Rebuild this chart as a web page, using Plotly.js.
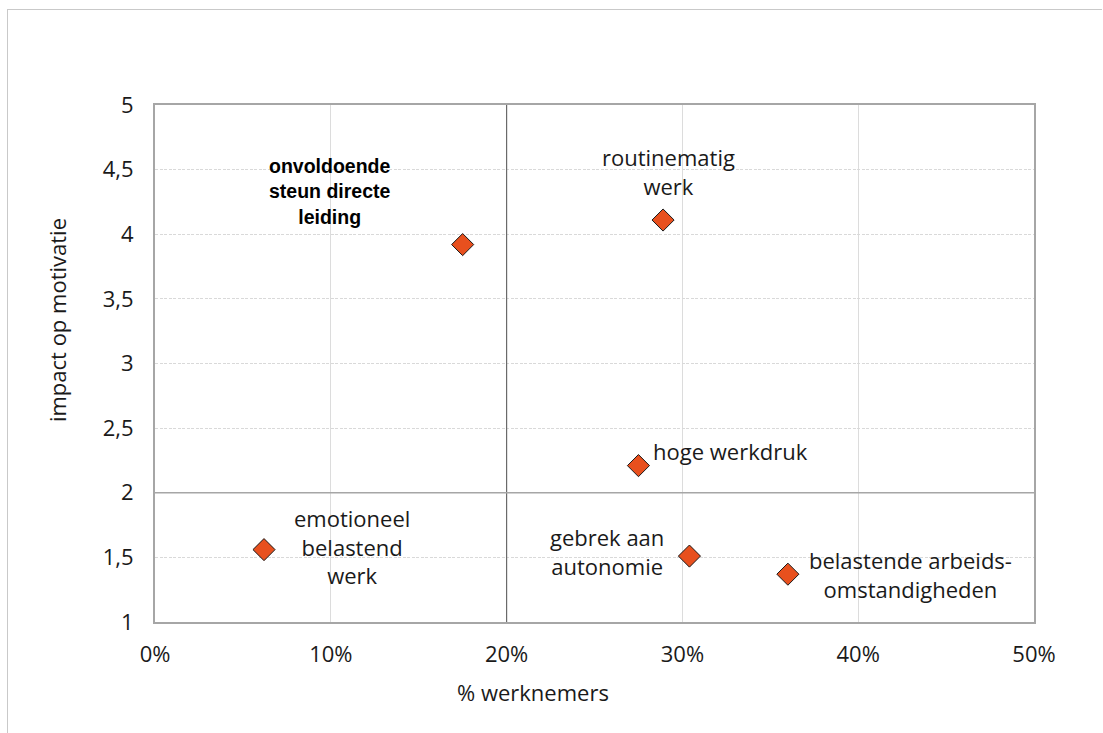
<!DOCTYPE html>
<html>
<head>
<meta charset="utf-8">
<script src="https://cdn.plot.ly/plotly-3.0.1.min.js"></script>
<style>
  html, body { margin: 0; padding: 0; background: #ffffff; }
  #frame { position: absolute; left: 7px; top: 9px; width: 1095px; height: 760px;
           border-left: 1px solid #c9c9c9; border-top: 1px solid #c9c9c9; box-sizing: border-box; }
  #chart { position: absolute; left: 0; top: 0; width: 1103px; height: 733px; }
</style>
</head>
<body>
<div id="frame"></div>
<div id="chart"></div>
<script>
// Werkfactoren: aandeel werknemers (%) en impact op motivatie
const factors = [
  'onvoldoende steun directe leiding',
  'routinematig werk',
  'hoge werkdruk',
  'emotioneel belastend werk',
  'gebrek aan autonomie',
  'belastende arbeidsomstandigheden'
];
const pctEmployees = [17.5, 28.9, 27.5, 6.2, 30.4, 36.0];
const impact = [3.92, 4.11, 2.21, 1.56, 1.51, 1.37];

// Labels shown next to each point
const labelTexts = [
  'onvoldoende<br>steun directe<br>leiding',
  'routinematig<br>werk',
  'hoge werkdruk',
  'emotioneel<br>belastend<br>werk',
  'gebrek aan<br>autonomie',
  'belastende arbeids-<br>omstandigheden'
];
const labelX = [9.95, 29.2, 28.2, 11.2, 25.7, 42.95];
const labelY = [4.33, 4.485, 2.32, 1.588, 1.545, 1.364];
const labelAnchor = ['center', 'center', 'left', 'center', 'center', 'center'];
const labelBold = [true, false, false, false, false, false];

// Axis labels and ticks
const xTitle = '% werknemers';
const yTitle = 'impact op motivatie';
const xTicks = [0, 10, 20, 30, 40, 50];
const xTickLabels = ['0%', '10%', '20%', '30%', '40%', '50%'];
const yTicks = [1, 1.5, 2, 2.5, 3, 3.5, 4, 4.5, 5];
const yTickLabels = ['1', '1,5', '2', '2,5', '3', '3,5', '4', '4,5', '5'];

const textFont = { family: 'Open Sans, sans-serif', size: 22, color: '#1a1a1a' };

const annotations = labelTexts.map((t, i) => ({
  x: labelX[i], y: labelY[i], xref: 'x', yref: 'y',
  text: labelBold[i] ? '<b>' + t + '</b>' : t,
  showarrow: false, xanchor: labelAnchor[i], yanchor: 'middle', align: 'center',
  font: labelBold[i]
    ? { family: 'Liberation Sans, Arial, sans-serif', size: 19.5, color: '#000000' }
    : textFont
}));

// Axis titles sit slightly off-centre, so they are placed as paper annotations
annotations.push({
  xref: 'paper', yref: 'paper', x: 0.430, y: -0.1354,
  xanchor: 'center', yanchor: 'middle', showarrow: false,
  text: xTitle, font: textFont
});
annotations.push({
  xref: 'paper', yref: 'paper', x: -0.1115, y: 0.584,
  xanchor: 'center', yanchor: 'middle', showarrow: false, textangle: -90,
  text: yTitle, font: textFont
});

const trace = {
  type: 'scatter', mode: 'markers',
  x: pctEmployees, y: impact, text: factors,
  hoverinfo: 'text',
  marker: { symbol: 'diamond', size: 17, color: '#E8501E', line: { color: '#1a1a1a', width: 1 } }
};

const layout = {
  width: 1103, height: 733,
  margin: { l: 155, r: 69, t: 105, b: 111 },
  paper_bgcolor: 'rgba(0,0,0,0)',
  plot_bgcolor: '#ffffff',
  showlegend: false,
  font: textFont,
  xaxis: {
    range: [0, 50], tickmode: 'array', tickvals: xTicks, ticktext: xTickLabels,
    showgrid: true, gridcolor: '#dcdcdc', gridwidth: 1,
    zeroline: false, showline: true, mirror: true, linecolor: '#a6a6a6', linewidth: 2,
    ticks: '', ticklabelstandoff: 12,
    tickfont: textFont
  },
  yaxis: {
    range: [1, 5], tickmode: 'array', tickvals: yTicks, ticktext: yTickLabels,
    showgrid: true, gridcolor: '#d9d9d9', gridwidth: 1, griddash: '3px,1.5px',
    zeroline: false, showline: true, mirror: true, linecolor: '#a6a6a6', linewidth: 2,
    ticks: '', ticklabelstandoff: 15,
    tickfont: textFont
  },
  shapes: [
    // Quadrant dividers at 20% and impact 2
    { type: 'line', xref: 'x', yref: 'paper', x0: 20, x1: 20, y0: 0, y1: 1,
      line: { color: '#6a6a6a', width: 1.2 }, layer: 'above' },
    { type: 'line', xref: 'paper', yref: 'y', x0: 0, x1: 1, y0: 2, y1: 2,
      line: { color: '#a6a6a6', width: 1.5 }, layer: 'above' }
  ],
  annotations: annotations
};

Plotly.newPlot('chart', [trace], layout, { displayModeBar: false, staticPlot: true });
</script>
</body>
</html>
